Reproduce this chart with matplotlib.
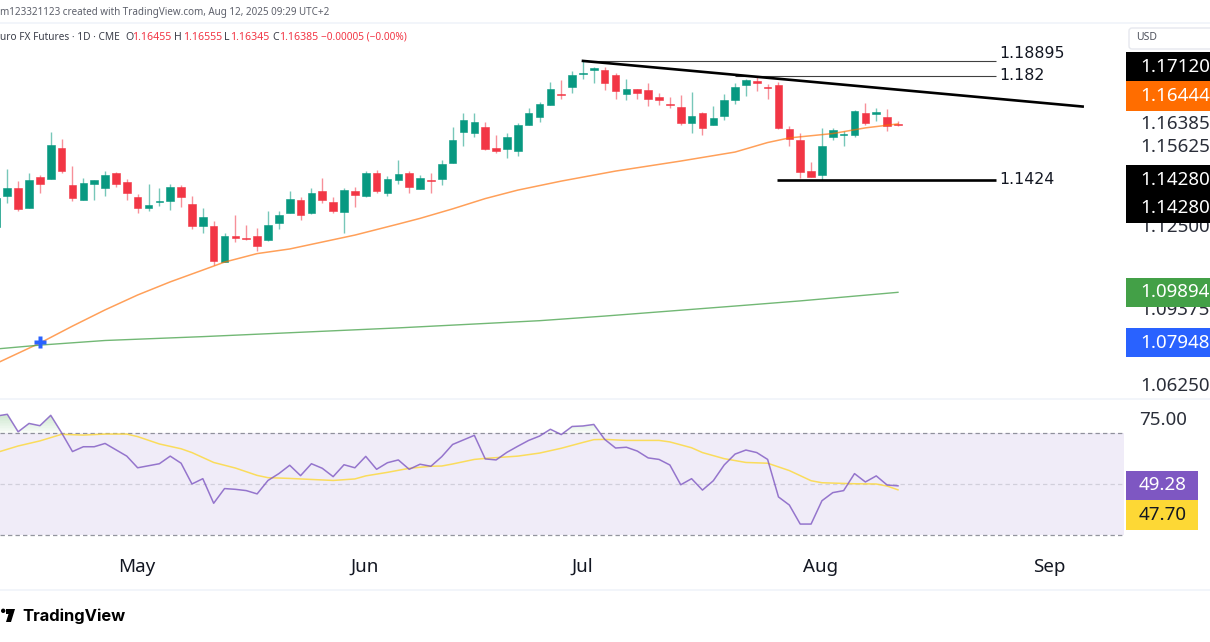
import numpy as np
import matplotlib
matplotlib.use("Agg")
import matplotlib.pyplot as plt
from matplotlib.patches import Polygon, Circle, FancyBboxPatch, Rectangle

# daily bars, first visible bar is n=0, Jul 1 is n=54, Aug 12 is n=83
opens = [1.1245, 1.1364, 1.1394, 1.1319, 1.1438, 1.1429, 1.1551, 1.1406, 1.1350, 1.1412,
         1.1396, 1.1455, 1.1420, 1.1360, 1.1317, 1.1342, 1.1346, 1.1400, 1.1333, 1.1247,
         1.1247, 1.1109, 1.1210, 1.1199, 1.1207, 1.1192, 1.1260, 1.1299, 1.1347, 1.1297,
         1.1382, 1.1341, 1.1303, 1.1382, 1.1364, 1.1452, 1.1377, 1.1426, 1.1452, 1.1392,
         1.1425, 1.1431, 1.1491, 1.1612, 1.1609, 1.1631, 1.1550, 1.1547, 1.1540, 1.1639,
         1.1670, 1.1717, 1.1761, 1.1789, 1.1838, 1.1854, 1.1854, 1.1834, 1.1762, 1.1779,
         1.1776, 1.1750, 1.1721, 1.1711, 1.1649, 1.1686, 1.1639, 1.1674, 1.1738, 1.1795,
         1.1811, 1.1787, 1.1796, 1.1624, 1.1581, 1.1460, 1.1447, 1.1595, 1.1603, 1.1603,
         1.1688, 1.1682, 1.1671, 1.16455]
highs = [1.1355, 1.1468, 1.1422, 1.1452, 1.1446, 1.1613, 1.1586, 1.1479, 1.1434, 1.1428,
         1.1460, 1.1457, 1.1429, 1.1372, 1.1411, 1.1395, 1.1409, 1.1406, 1.1364, 1.1317,
         1.1267, 1.1219, 1.1289, 1.1251, 1.1238, 1.1307, 1.1306, 1.1382, 1.1361, 1.1394,
         1.1434, 1.1359, 1.1394, 1.1400, 1.1460, 1.1465, 1.1443, 1.1503, 1.1462, 1.1445,
         1.1452, 1.1504, 1.1631, 1.1686, 1.1686, 1.1652, 1.1600, 1.1610, 1.1647, 1.1706,
         1.1730, 1.1806, 1.1814, 1.1849, 1.1890, 1.1865, 1.1865, 1.1844, 1.1820, 1.1781,
         1.1802, 1.1766, 1.1748, 1.1756, 1.1769, 1.1691, 1.1714, 1.1761, 1.1802, 1.1818,
         1.1828, 1.1801, 1.1809, 1.1636, 1.1608, 1.1495, 1.1627, 1.1629, 1.1618, 1.1699,
         1.1726, 1.1706, 1.1701, 1.16555]
lows = [1.1245, 1.1338, 1.1307, 1.1319, 1.1374, 1.1429, 1.1455, 1.1346, 1.1350, 1.1350,
        1.1364, 1.1400, 1.1347, 1.1297, 1.1304, 1.1326, 1.1310, 1.1320, 1.1236, 1.1221,
        1.1096, 1.1109, 1.1186, 1.1193, 1.1151, 1.1189, 1.1237, 1.1299, 1.1271, 1.1294,
        1.1337, 1.1297, 1.1221, 1.1323, 1.1359, 1.1374, 1.1365, 1.1411, 1.1377, 1.1390,
        1.1377, 1.1407, 1.1491, 1.1560, 1.1595, 1.1544, 1.1530, 1.1512, 1.1520, 1.1639,
        1.1653, 1.1717, 1.1743, 1.1766, 1.1820, 1.1805, 1.1776, 1.1740, 1.1738, 1.1743,
        1.1714, 1.1717, 1.1705, 1.1640, 1.1610, 1.1603, 1.1639, 1.1660, 1.1722, 1.1754,
        1.1773, 1.1743, 1.1624, 1.1557, 1.1435, 1.1437, 1.1426, 1.1582, 1.1559, 1.1595,
        1.1640, 1.1657, 1.1617, 1.16345]
closes = [1.1355, 1.1394, 1.1312, 1.1425, 1.1412, 1.1562, 1.1463, 1.1358, 1.1415, 1.1425,
          1.1446, 1.1412, 1.1377, 1.1316, 1.1330, 1.1345, 1.1400, 1.1361, 1.1247, 1.1282,
          1.1111, 1.1207, 1.1199, 1.1196, 1.1170, 1.1253, 1.1290, 1.1352, 1.1291, 1.1376,
          1.1350, 1.1304, 1.1387, 1.1367, 1.1452, 1.1382, 1.1430, 1.1450, 1.1400, 1.1433,
          1.1422, 1.1489, 1.1581, 1.1659, 1.1651, 1.1547, 1.1540, 1.1594, 1.1639, 1.1688,
          1.1723, 1.1781, 1.1758, 1.1836, 1.1844, 1.1862, 1.1802, 1.1773, 1.1779, 1.1765,
          1.1741, 1.1739, 1.1717, 1.1649, 1.1674, 1.1627, 1.1666, 1.1736, 1.1789, 1.1814,
          1.1804, 1.1784, 1.1630, 1.1586, 1.1457, 1.1437, 1.1559, 1.1621, 1.1605, 1.1694,
          1.1648, 1.1691, 1.1636, 1.16385]

# moving averages, read at some bars only
ema_bars = [0, 4, 7, 10, 13, 16, 19, 21, 24, 27, 33, 37, 39, 42, 45, 48, 52, 57, 63, 68, 71, 73, 77, 80, 83]
ema_vals = [1.0713, 1.0792, 1.0858, 1.0921, 1.0979, 1.1030, 1.1076, 1.1107, 1.1140, 1.1158, 1.1212, 1.1255,
            1.1277, 1.1314, 1.1354, 1.1387, 1.1422, 1.1461, 1.1500, 1.1535, 1.1572, 1.1590, 1.1607, 1.1629, 1.16444]
sma_bars = [0, 4, 10, 19, 28, 37, 50, 56, 68, 74, 83]
sma_vals = [1.0769, 1.0784, 1.0802, 1.0817, 1.0834, 1.0851, 1.0879, 1.0897, 1.0936, 1.0956, 1.09894]

rsi = [76.8, 77.5, 70.6, 73.9, 73.0, 77.1, 70.2, 62.8, 64.7, 64.7, 66.0, 63.5, 61.0, 56.4, 57.2, 58.0, 61.0,
       58.2, 50.0, 52.1, 42.4, 48.2, 47.9, 47.4, 46.1, 51.4, 54.1, 57.4, 53.3, 58.0, 56.2, 52.9, 57.6, 56.4,
       60.9, 55.8, 58.4, 59.5, 55.8, 57.8, 57.0, 60.8, 65.6, 67.4, 69.2, 59.9, 59.5, 62.5, 64.9, 67.2, 68.9,
       71.6, 69.5, 72.7, 72.9, 73.5, 67.6, 64.2, 64.5, 63.0, 60.3, 59.7, 57.5, 49.7, 52.1, 47.6, 51.3, 57.5,
       61.8, 63.4, 62.4, 59.7, 44.9, 41.7, 34.2, 34.2, 43.4, 46.6, 47.4, 54.1, 50.8, 53.2, 49.6, 49.28]
rsi_ma_bars = [0, 2, 4, 6, 8, 10, 12, 13, 15, 17, 18, 20, 22, 24, 25, 27, 29, 31, 33, 34, 36, 38, 40, 41, 42,
               44, 45, 48, 50, 52, 54, 55, 56, 58, 61, 62, 64, 65, 67, 69, 71, 73, 75, 76, 79, 81, 82, 83]
rsi_ma_vals = [62.4, 65.0, 67.0, 69.6, 69.3, 69.7, 69.7, 68.7, 65.8, 63.9, 62.4, 58.5, 56.3, 53.4, 52.5, 52.2,
               51.8, 51.4, 52.0, 53.2, 54.6, 56.2, 57.0, 57.1, 57.9, 59.7, 60.1, 61.0, 62.2, 64.1, 66.4, 67.5,
               67.6, 67.2, 67.2, 66.6, 64.3, 62.4, 60.0, 58.5, 58.2, 55.3, 51.3, 50.5, 50.1, 50.0, 49.2, 47.7]

# drawn levels and their typed labels
level_vals = [1.18895, 1.1831, 1.1427]
level_labels = ["1.18895", "1.182", "1.1424"]
level_starts = [54, 68, 71.9]
trend_bars = [54, 100]
trend_vals = [1.18895, 1.1712]
cross_bar = 4
cross_val = 1.07948

month_labels = ["May", "Jun", "Jul", "Aug", "Sep"]
month_bars = [13, 34, 54, 76, 97]

green = "#089981"
red = "#F23645"
ink = "#131722"
W, H = 1210, 642


def box(top, bottom, right=1124):
    return [0, 1 - bottom / H, right / W, (bottom - top) / H]


plt.rcParams["font.family"] = ["Noto Sans", "DejaVu Sans"]
fig = plt.figure(figsize=(W / 100, H / 100), dpi=100, facecolor="white")

# price pane
ax = fig.add_axes(box(24, 399))
x = np.arange(len(closes))
op, hi, lo, cl = map(np.array, (opens, highs, lows, closes))
cols = [green if c >= o else red for o, c in zip(op, cl)]
ax.vlines(x, lo, hi, colors=cols, lw=1, alpha=0.55, zorder=2)
ax.bar(x, np.abs(cl - op), bottom=np.minimum(op, cl), width=0.7, color=cols, edgecolor=cols, lw=0.4, zorder=3)
ax.plot(ema_bars, ema_vals, color="#FF6D00", lw=1.1, alpha=0.65, zorder=4)
ax.plot(sma_bars, sma_vals, color="#43A047", lw=1.0, alpha=0.75, zorder=4)
ax.plot(cross_bar, cross_val, marker="P", ms=8, color="#2962FF", mec="none", zorder=5)
ax.plot(trend_bars, trend_vals, color="black", lw=1.9, zorder=5)
ax.hlines(level_vals[0], level_starts[0], 92, color="black", lw=0.8, alpha=0.75, zorder=5)
ax.hlines(level_vals[1], level_starts[1], 92, color="black", lw=0.8, alpha=0.75, zorder=5)
ax.hlines(level_vals[2], level_starts[2], 92, color="black", lw=1.9, zorder=5)
ax.set_xlim(0.328, 103.81)
ax.set_ylim(1.05744, 1.20331)
ax.axis("off")

# rsi pane
ax2 = fig.add_axes(box(400, 545))
xr = np.arange(len(rsi))
rs = np.array(rsi)
ax2.axhspan(30, 70, color="#7E57C2", alpha=0.11, lw=0)
for lev in np.arange(70, 77, 1.0):
    ax2.fill_between(xr, lev, rs, where=rs > lev, interpolate=True, color="#4CAF50", alpha=0.035, lw=0)
ax2.axhline(70, color="#787B86", lw=0.9, ls=(0, (3.5, 2.5)), alpha=0.8)
ax2.axhline(50, color="#787B86", lw=0.9, ls=(0, (3.5, 2.5)), alpha=0.25)
ax2.axhline(30, color="#787B86", lw=0.9, ls=(0, (3.5, 2.5)), alpha=0.8)
ax2.plot(rsi_ma_bars, rsi_ma_vals, color="#FDD835", lw=1.1, alpha=0.8)
ax2.plot(xr, rs, color="#7E57C2", lw=1.1, alpha=0.8)
ax2.set_xlim(0.328, 103.81)
ax2.set_ylim(25.94, 83.14)
ax2.axis("off")

# everything around the panes, in picture pixels
top = fig.add_axes([0, 0, 1, 1], zorder=10)
top.set_xlim(0, W)
top.set_ylim(H, 0)
top.axis("off")
top.patch.set_alpha(0)

for yy in (23, 399, 590):
    top.plot([0, W], [yy, yy], color="#f0f3fa", lw=1.2)

top.text(0, 13, "m123321123 created with TradingView.com, Aug 12, 2025 09:29 UTC+2", fontsize=7.1, color="#5d606b", va="center")
top.text(0, 37, "uro FX Futures · 1D · CME", fontsize=7.3, color="#3c3f4a", va="center")
for xx, lab in [(125, "O"), (174, "H"), (224, "L"), (272, "C")]:
    top.text(xx, 37, lab, fontsize=7.6, color="#3c3f4a", va="center")
for xx, lab in [(132, "1.16455"), (183, "1.16555"), (230, "1.16345"), (279, "1.16385")]:
    top.text(xx, 37, lab, fontsize=7.6, color=red, va="center")
top.text(321, 37, "−0.00005 (−0.00%)", fontsize=7.2, color=red, va="center")

# labels of the drawn levels
for yy, lab in zip((54, 75, 179), level_labels):
    top.text(999, yy, lab, family="DejaVu Sans", fontsize=11.3, color=ink, va="center")

# right scale
top.add_patch(FancyBboxPatch((1129, 28), 90, 21, boxstyle="round,pad=0,rounding_size=3", fc="white", ec="#e6e8ee", lw=1))
top.text(1136, 38, "USD", fontsize=7.5, color="#50535e", va="center")
for yy, lab in [(124, "1.16385"), (147, "1.15625"), (227, "1.12500"), (310, "1.09375"), (386, "1.06250")]:
    top.text(1140, yy, lab, fontsize=13.5, color="#2a2e39", va="center", zorder=2)
top.text(1139, 420, "75.00", fontsize=13.5, color="#2a2e39", va="center")
for y0, y1, col in [(52, 81, "black"), (81, 111, "#FF6D00"), (165, 223, "black"), (278, 307, "#43A047"), (328, 357, "#2962FF")]:
    top.add_patch(Rectangle((1126, y0), 90, y1 - y0, fc=col, ec="none", zorder=3))
for yy, lab in [(67, "1.17120"), (96, "1.16444"), (180, "1.14280"), (208, "1.14280"), (292, "1.09894"), (343, "1.07948")]:
    top.text(1140, yy, lab, fontsize=13.5, color="white", va="center", zorder=4)
top.add_patch(Rectangle((1126, 471), 72, 29, fc="#7E57C2", ec="none", zorder=3))
top.add_patch(Rectangle((1126, 500), 72, 30, fc="#FDD835", ec="none", zorder=3))
top.text(1139, 485, "49.28", fontsize=13.5, color="white", va="center", zorder=4)
top.text(1139, 515, "47.70", fontsize=13.5, color=ink, va="center", zorder=4)

# months
for n, lab in zip(month_bars, month_labels):
    top.text(-4.56 + 10.862 * n, 566.5, lab, fontsize=13.5, color=ink, ha="center", va="center")

# logo
top.add_patch(Circle((3.2, 610.8), 2.2, fc="black", ec="none"))
top.add_patch(Polygon([(6, 609), (15, 609), (11, 622), (6, 622), (8.5, 614), (6, 614)], fc="black", ec="none"))
top.text(22, 616, "TradingView", family="Inter", fontsize=11.9, fontweight="bold", color="black", va="center")

fig.savefig("out.png", dpi=100)
